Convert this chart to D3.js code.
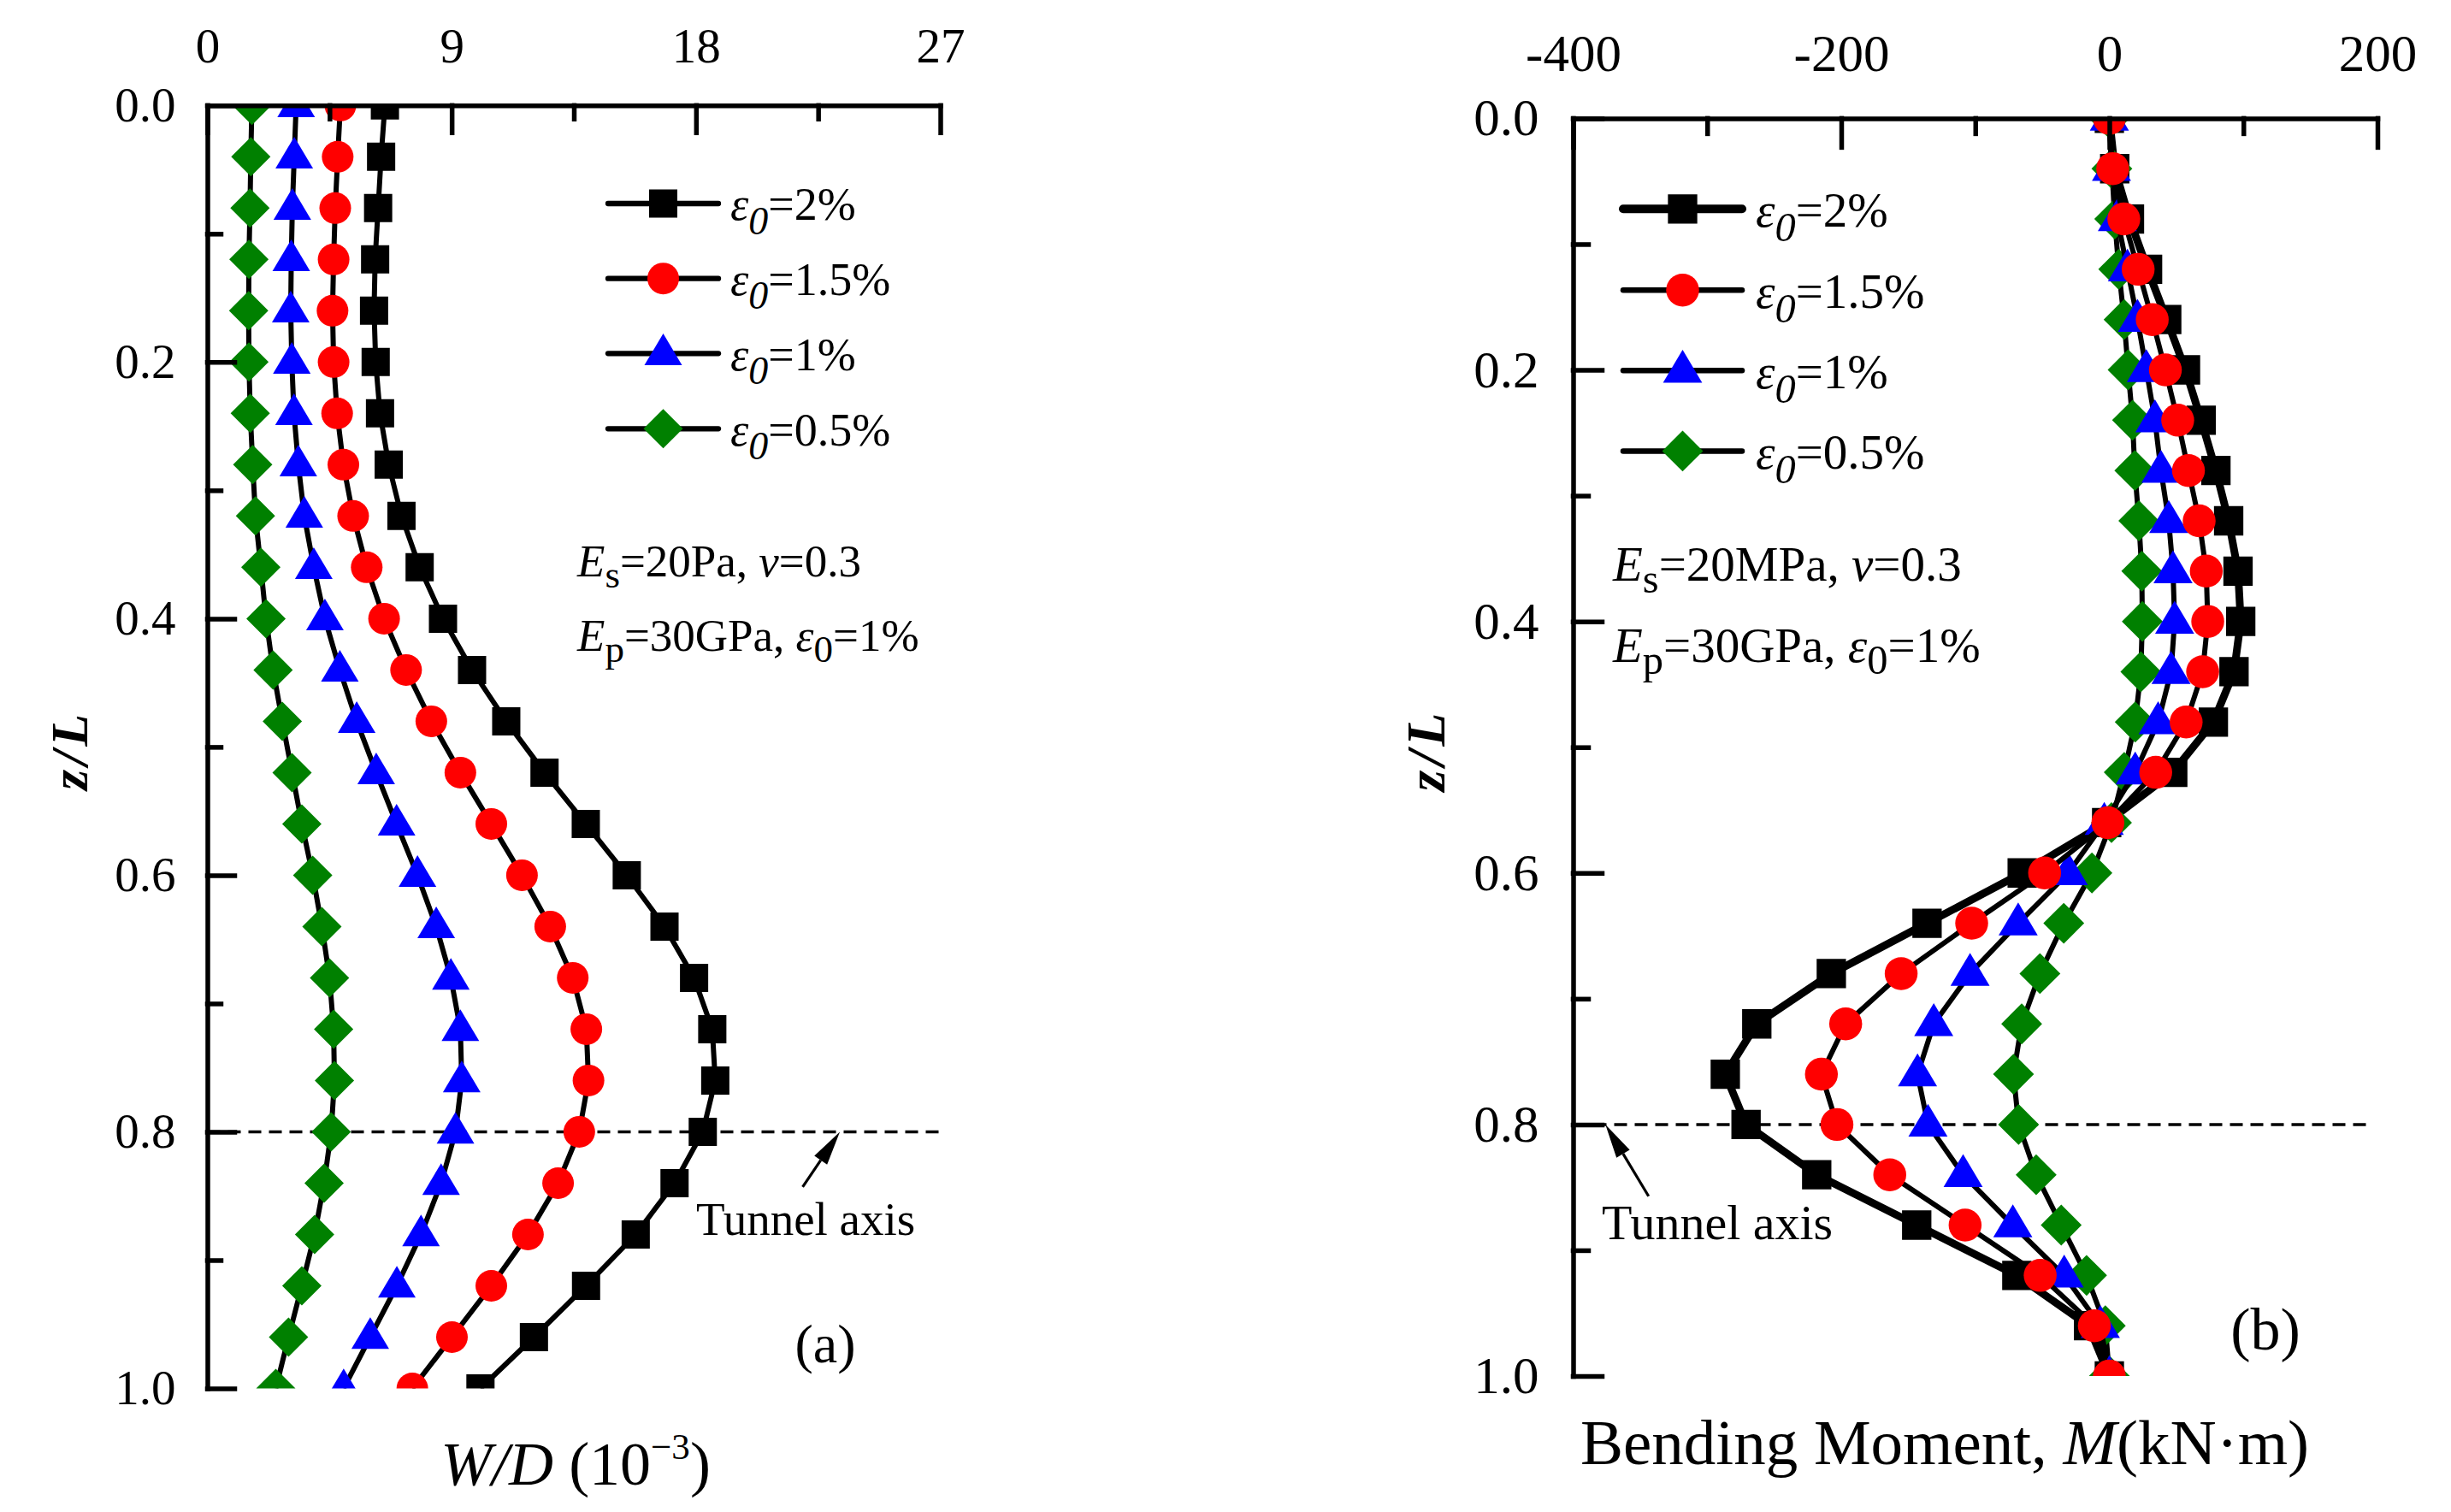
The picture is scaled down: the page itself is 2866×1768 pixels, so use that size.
<!DOCTYPE html>
<html><head><meta charset="utf-8">
<script src="https://cdn.jsdelivr.net/npm/d3@7"></script>
<style>body{margin:0;background:#fff}svg{display:block}svg text{font-family:'Liberation Serif','Times New Roman',serif}</style>
</head><body>
<svg id="c" width="2866" height="1768"></svg>
<script>
// ---------- data ----------
const zL = [0.00,0.04,0.08,0.12,0.16,0.20,0.24,0.28,0.32,0.36,0.40,0.44,0.48,0.52,0.56,0.60,0.64,0.68,0.72,0.76,0.80,0.84,0.88,0.92,0.96,1.00];
const seriesLabels = ["2%","1.5%","1%","0.5%"];
// (a) settlement W/D (1e-3)
const wd_2  = [6.54,6.40,6.29,6.18,6.14,6.20,6.36,6.68,7.15,7.82,8.68,9.75,11.01,12.42,13.94,15.45,16.84,17.93,18.60,18.71,18.25,17.21,15.78,13.95,12.03,10.06];
const wd_15 = [4.90,4.80,4.71,4.65,4.61,4.65,4.78,5.01,5.37,5.87,6.51,7.32,8.25,9.32,10.46,11.59,12.63,13.46,13.96,14.04,13.70,12.92,11.81,10.46,9.01,7.55];
const wd_1  = [3.27,3.20,3.13,3.09,3.07,3.11,3.19,3.35,3.57,3.92,4.33,4.88,5.50,6.22,6.97,7.74,8.43,8.97,9.32,9.37,9.14,8.61,7.87,6.98,6.00,5.02];
const wd_05 = [1.64,1.60,1.57,1.53,1.52,1.53,1.58,1.67,1.77,1.97,2.16,2.42,2.76,3.12,3.48,3.88,4.22,4.50,4.65,4.68,4.56,4.30,3.95,3.48,2.99,2.52];
// (b) bending moment M (kN·m)
const bm_2  = [0,4,15,28.5,42.8,56.8,68.5,79.5,89,96,98,93,77.6,47.3,-2,-65,-136,-207.4,-263,-286.5,-271,-218.3,-143.7,-69,-15.5,0];
const bm_15 = [0,2.5,10.8,21.5,32,41.8,51,59,67,72.3,73.4,69.6,57.3,34.6,-1.1,-48.3,-102.7,-155.3,-196.7,-214.8,-203.2,-163.8,-107.6,-51.6,-11.2,0];
const bm_1  = [0,1.6,6,13.5,21,27.6,34,38.5,44.3,47.5,48.7,46,36.4,19.3,-3.8,-30.6,-68,-103.9,-131,-143.1,-135.3,-109.1,-72,-33.7,-6.7,0];
const bm_05 = [0,1.9,4,7,11,14,17.3,19,22,24.2,24.6,23.5,19.3,11.1,1.6,-13,-34,-51.8,-65.4,-71.5,-67.7,-54.6,-35.9,-17,-3,0];
// ticks
const wdTicks = [0,9,18,27];
const wdMinor = [4.5,13.5,22.5];
const bmTicks = [-400,-200,0,200];
const bmMinor = [-300,-100,100];
const zTicks = [0,0.2,0.4,0.6,0.8,1.0];
const zMinor = [0.1,0.3,0.5,0.7,0.9];
const tunnelZ = 0.8;

// ---------- styling ----------
const colors = ["#000000","#ff0000","#0000ff","#008000"];
const shapes = ["square","circle","triangle","diamond"];
const drawOrder = [0,3,2,1];
const FONT = "'Liberation Serif','Times New Roman',serif";

const svg = d3.select("#c").style("font-family", FONT);
svg.append("rect").attr("width",2866).attr("height",1768).attr("fill","#fff");

function markerPath(shape, k){
  if(shape==="square"){const a=33*k;return `M${-a/2},${-a/2}h${a}v${a}h${-a}Z`;}
  if(shape==="circle"){const r=18.5*k;return `M${-r},0a${r},${r} 0 1,0 ${2*r},0a${r},${r} 0 1,0 ${-2*r},0Z`;}
  if(shape==="triangle"){const w=44*k,h=37*k;return `M0,${-0.63*h}L${w/2},${0.37*h}L${-w/2},${0.37*h}Z`;}
  const w=46*k,h=46*k;return `M0,${-h/2}L${w/2},0L0,${h/2}L${-w/2},0Z`;
}

function subText(sel, parts){
  parts.forEach(p=>{
    const t = sel.append("tspan").text(p.t);
    if(p.i) t.attr("font-style","italic");
    if(p.fs) t.attr("font-size",p.fs);
    if(p.dy) t.attr("dy",p.dy);
  });
}

function panel(cfg){
  const g = svg.append("g");
  const x = d3.scaleLinear(cfg.xDomain, cfg.xRange);
  const y = d3.scaleLinear([0,1], cfg.yRange);
  const clipId = "clip"+cfg.id;
  svg.append("clipPath").attr("id",clipId).append("rect")
    .attr("x",cfg.xRange[0]).attr("y",cfg.yRange[0])
    .attr("width",cfg.xRange[1]-cfg.xRange[0]).attr("height",cfg.yRange[1]-cfg.yRange[0]);

  // tunnel axis dashed line
  g.append("line")
    .attr("x1",x(cfg.xDomain[0])).attr("x2",x(cfg.dashEnd))
    .attr("y1",y(tunnelZ)).attr("y2",y(tunnelZ))
    .attr("stroke","#000").attr("stroke-width",3.5).attr("stroke-dasharray","15,9");

  // series
  const data = cfg.series;
  const plot = g.append("g").attr("clip-path",`url(#${clipId})`);
  const line = d3.line().x(d=>x(d[0])).y(d=>y(d[1]));
  drawOrder.forEach(si=>{
    const pts = data[si].map((v,i)=>[v,zL[i]]);
    plot.append("path").attr("d",line(pts)).attr("fill","none")
      .attr("stroke","#000").attr("stroke-width",cfg.lw[si]).attr("stroke-linejoin","round");
    plot.selectAll(null).data(pts).enter().append("path")
      .attr("d",markerPath(shapes[si],cfg.mk))
      .attr("transform",d=>`translate(${x(d[0])},${y(d[1])})`)
      .attr("fill",colors[si]);
  });

  // axes
  g.append("g").attr("transform",`translate(0,${cfg.yRange[0]})`)
    .call(d3.axisTop(x).tickValues(cfg.xTicks).tickFormat(d=>String(d))
      .tickSizeInner(-cfg.tMaj).tickSizeOuter(0).tickPadding(cfg.xPad));
  g.append("g").attr("transform",`translate(0,${cfg.yRange[0]})`)
    .call(d3.axisTop(x).tickValues(cfg.xMinor).tickFormat("").tickSizeInner(-cfg.tMin).tickSizeOuter(0))
    .select(".domain").remove();
  g.append("g").attr("transform",`translate(${cfg.xRange[0]},0)`)
    .call(d3.axisLeft(y).tickValues(zTicks).tickFormat(d3.format(".1f"))
      .tickSizeInner(-cfg.tMaj).tickSizeOuter(0).tickPadding(cfg.yPad));
  g.append("g").attr("transform",`translate(${cfg.xRange[0]},0)`)
    .call(d3.axisLeft(y).tickValues(zMinor).tickFormat("").tickSizeInner(-cfg.tMin).tickSizeOuter(0))
    .select(".domain").remove();
  g.selectAll("g").filter(function(){return this.hasAttribute("font-family");}).attr("font-family",null).attr("font-size",null);
  g.selectAll(".domain, .tick line").attr("stroke","#000").attr("stroke-width",5.5).attr("stroke-linecap","square");
  g.selectAll(".tick text").style("font-family",FONT).style("font-size",cfg.tickFs+"px").attr("fill","#000");

  // axis titles
  const yt = g.append("text").attr("transform",`translate(${cfg.yTitle[0]},${cfg.yTitle[1]}) rotate(-90)`)
    .attr("text-anchor","middle").attr("dy","0.35em").attr("font-size",cfg.yTitleFs)
    .attr("font-style","italic").attr("font-weight","bold").attr("letter-spacing",5);
  yt.text("z/L");
  const xt = g.append("text").attr("x",cfg.xTitle[0]).attr("y",cfg.xTitle[1])
    .attr("text-anchor","middle").attr("font-size",cfg.xTitleFs);
  subText(xt, cfg.xTitleParts);

  // legend
  const lg = g.append("g");
  cfg.legRows.forEach((ry,si)=>{
    lg.append("line").attr("x1",cfg.legX[0]).attr("x2",cfg.legX[1]).attr("y1",ry).attr("y2",ry)
      .attr("stroke","#000").attr("stroke-width",cfg.legLw[si]).attr("stroke-linecap","round");
    lg.append("path").attr("d",markerPath(shapes[si],cfg.mk))
      .attr("transform",`translate(${(cfg.legX[0]+cfg.legX[1])/2},${ry})`).attr("fill",colors[si]);
    const t = lg.append("text").attr("x",cfg.legText).attr("y",ry+cfg.legFs*0.36).attr("font-size",cfg.legFs);
    subText(t,[{t:"ε",i:1},{t:"0",i:1,fs:cfg.legFs*0.85,dy:cfg.legFs*0.3},{t:"="+seriesLabels[si],dy:-cfg.legFs*0.3}]);
  });

  // parameter annotation
  const a1 = g.append("text").attr("x",cfg.ann[0]).attr("y",cfg.ann[1]).attr("font-size",cfg.annFs);
  subText(a1,[{t:"E",i:1},{t:"s",fs:cfg.annFs*0.85,dy:cfg.annFs*0.25},{t:cfg.esText+", ",dy:-cfg.annFs*0.25},{t:"v",i:1},{t:"=0.3"}]);
  const a2 = g.append("text").attr("x",cfg.ann[0]).attr("y",cfg.ann[2]).attr("font-size",cfg.annFs);
  subText(a2,[{t:"E",i:1},{t:"p",fs:cfg.annFs*0.85,dy:cfg.annFs*0.25},{t:"=30GPa, ",dy:-cfg.annFs*0.25},{t:"ε",i:1},{t:"0",fs:cfg.annFs*0.85,dy:cfg.annFs*0.25},{t:"=1%",dy:-cfg.annFs*0.25}]);

  // tunnel axis label and arrow
  g.append("text").attr("x",cfg.tunText[0]).attr("y",cfg.tunText[1]).attr("font-size",cfg.tunFs).text("Tunnel axis");
  const tip=[x(cfg.arrowTip[0]),y(cfg.arrowTip[1])], tail=[x(cfg.arrowTail[0]),y(cfg.arrowTail[1])];
  const ang=Math.atan2(tip[1]-tail[1],tip[0]-tail[0]);
  const L=40,W=9;
  const bx=tip[0]-L*Math.cos(ang), by=tip[1]-L*Math.sin(ang);
  g.append("line").attr("x1",tail[0]).attr("y1",tail[1]).attr("x2",bx).attr("y2",by).attr("stroke","#000").attr("stroke-width",3.2);
  g.append("path").attr("d",`M${tip[0]},${tip[1]}L${bx+W*Math.sin(ang)},${by-W*Math.cos(ang)}L${bx-W*Math.sin(ang)},${by+W*Math.cos(ang)}Z`).attr("fill","#000");

  // panel label
  g.append("text").attr("x",cfg.plabel[0]).attr("y",cfg.plabel[1]).attr("text-anchor","middle")
    .attr("font-size",cfg.plabelFs).text(cfg.plabelText);
}

panel({
  id:"a", xDomain:[0,27], xRange:[242.5,1099.5], yRange:[123.3,1623.5], dashEnd:27,
  series:[wd_2,wd_15,wd_1,wd_05], lw:[6,6,6,6], mk:1,
  xTicks:wdTicks, xMinor:wdMinor, tMaj:32, tMin:16, xPad:50, yPad:37, tickFs:57,
  yTitle:[80,877], yTitleFs:62, xTitle:[673,1736], xTitleFs:72,
  xTitleParts:[{t:"W/D",i:1},{t:" (10"},{t:"−3",fs:43,dy:-30},{t:")",dy:30}],
  legRows:[238,325.7,413.3,501.3], legX:[711,840], legLw:[6.3,6.3,6.3,6.3], legText:854, legFs:54,
  ann:[675,674,761], annFs:53, esText:"=20Pa",
  tunText:[814,1444], tunFs:55, arrowTip:[23.3,0.8], arrowTail:[21.93,0.843],
  plabel:[965,1593], plabelFs:64, plabelText:"(a)"
});

panel({
  id:"b", xDomain:[-400,200], xRange:[1839.5,2780], yRange:[138.4,1609], dashEnd:197,
  series:[bm_2,bm_15,bm_1,bm_05], lw:[9,6,6,6], mk:1.04,
  xTicks:bmTicks, xMinor:bmMinor, tMaj:34, tMin:18, xPad:55, yPad:40, tickFs:61,
  yTitle:[1667,877], yTitleFs:64, xTitle:[2274,1712], xTitleFs:75,
  xTitleParts:[{t:"Bending Moment, "},{t:"M",i:1},{t:"(kN·m)"}],
  legRows:[244.3,339.2,433.3,527.4], legX:[1898,2037], legLw:[10,6.5,6.5,6.5], legText:2053, legFs:57,
  ann:[1886,679,774], annFs:57, esText:"=20MPa",
  tunText:[1873,1449], tunFs:58, arrowTip:[-375.9,0.8], arrowTail:[-343.7,0.857],
  plabel:[2649,1578], plabelFs:70, plabelText:"(b)"
});
</script>
</body></html>
